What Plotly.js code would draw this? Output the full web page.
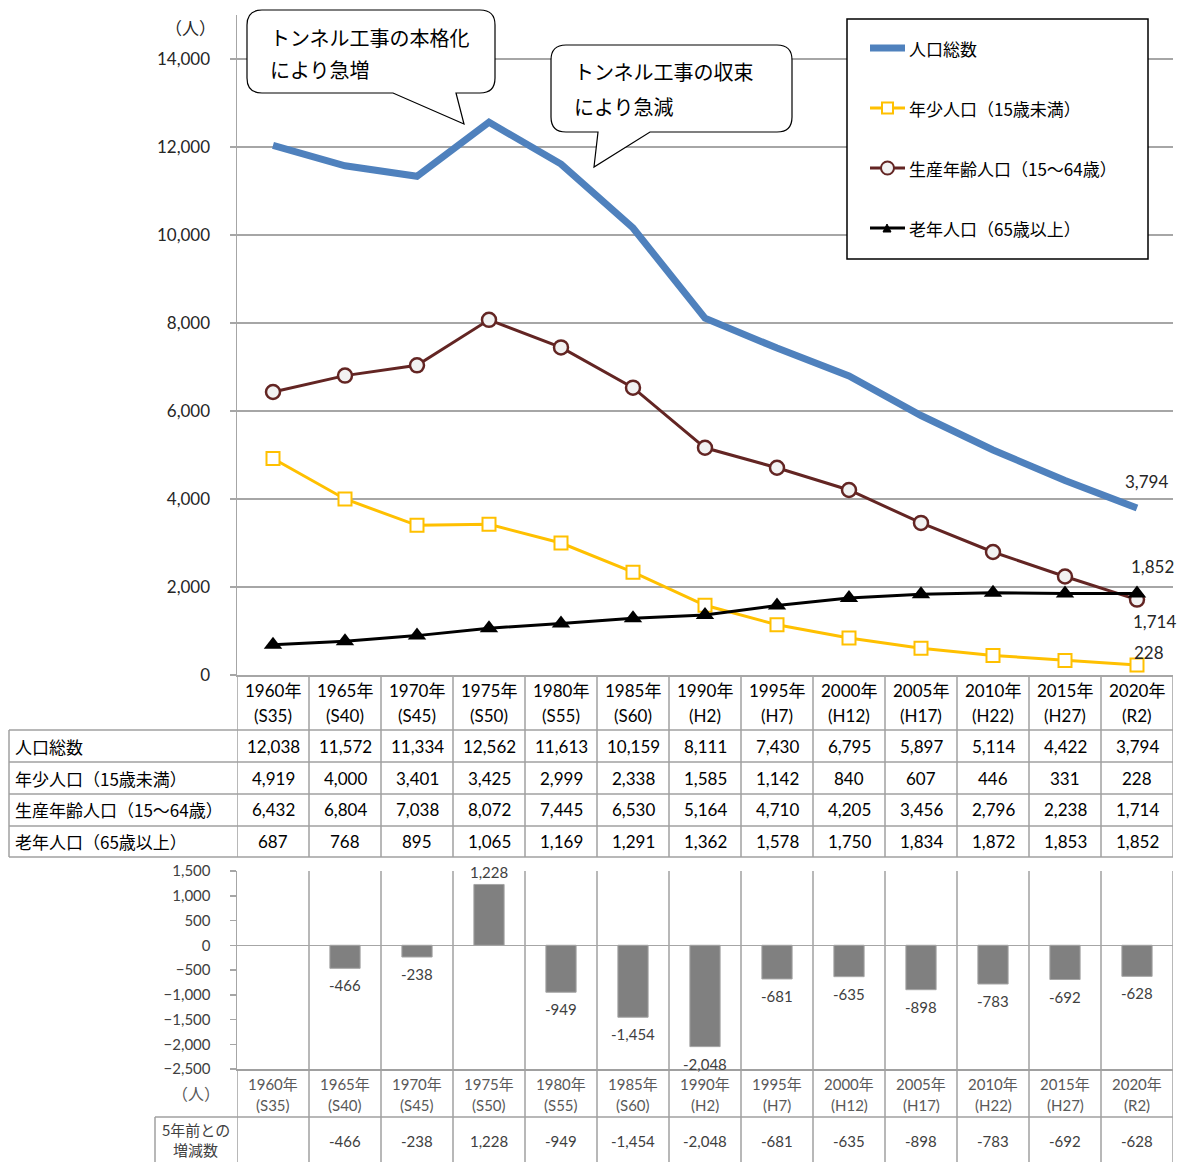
<!DOCTYPE html>
<html><head><meta charset="utf-8">
<script src="https://cdn.plot.ly/plotly-3.0.1.min.js"></script>
<style>html,body{margin:0;padding:0;background:#fff}#chart{width:1186px;height:1162px}</style>
</head><body><div id="chart"></div>
<script>
const years = ['1960年','1965年','1970年','1975年','1980年','1985年','1990年','1995年','2000年','2005年','2010年','2015年','2020年'];
const eras = ['(S35)','(S40)','(S45)','(S50)','(S55)','(S60)','(H2)','(H7)','(H12)','(H17)','(H22)','(H27)','(R2)'];
const totalPop = [12038,11572,11334,12562,11613,10159,8111,7430,6795,5897,5114,4422,3794];
const youthPop = [4919,4000,3401,3425,2999,2338,1585,1142,840,607,446,331,228];
const workingPop = [6432,6804,7038,8072,7445,6530,5164,4710,4205,3456,2796,2238,1714];
const elderlyPop = [687,768,895,1065,1169,1291,1362,1578,1750,1834,1872,1853,1852];
const change5yr = [null,-466,-238,1228,-949,-1454,-2048,-681,-635,-898,-783,-692,-628];
const seriesNames = ['人口総数','年少人口（15歳未満）','生産年齢人口（15～64歳）','老年人口（65歳以上）'];
const changeLabelLines = ['5年前との','増減数'];
const unitLabel = '（人）';
const callout1 = ['トンネル工事の本格化','により急増'];
const callout2 = ['トンネル工事の収束','により急減'];

const W = 1186, H = 1162;
const px = x => x / W;
const py = y => 1 - y / H;
const NUM_FONT = 'Lato, "Noto Sans CJK JP", sans-serif';
const JP_FONT = '"Noto Sans CJK JP", "Noto Sans", sans-serif';
const GRID = '#A6A6A6';
const TABLE_LINE = '#A0A0A0';

const C_TOTAL = '#4F81BD', C_YOUTH = '#FFC000', C_WORK = '#632523', C_OLD = '#000000';

const fmt = v => v == null ? '' : v.toLocaleString('en-US');

const traces = [
  {x: years, y: totalPop, type: 'scatter', mode: 'lines', name: seriesNames[0],
   line: {color: C_TOTAL, width: 7}, xaxis: 'x', yaxis: 'y'},
  {x: years, y: youthPop, type: 'scatter', mode: 'lines+markers', name: seriesNames[1],
   line: {color: C_YOUTH, width: 3},
   marker: {symbol: 'square', size: 13, color: '#FFFFFF', line: {color: C_YOUTH, width: 2}}, xaxis: 'x', yaxis: 'y'},
  {x: years, y: workingPop, type: 'scatter', mode: 'lines+markers', name: seriesNames[2],
   line: {color: C_WORK, width: 3},
   marker: {symbol: 'circle', size: 14, color: '#F2F2F2', line: {color: C_WORK, width: 2.5}}, xaxis: 'x', yaxis: 'y'},
  {x: years, y: elderlyPop, type: 'scatter', mode: 'lines+markers', name: seriesNames[3],
   line: {color: C_OLD, width: 3},
   marker: {symbol: 'triangle-up', size: 16, color: C_OLD}, xaxis: 'x', yaxis: 'y'},
  {x: years, y: change5yr, type: 'bar', xaxis: 'x2', yaxis: 'y2',
   marker: {color: '#808080', line: {color: '#A6A6A6', width: 1}}, width: 0.42}
];

const shapes = [];
const annotations = [];

function hl(x0, x1, y, color, w, layer) {
  shapes.push({type: 'line', xref: 'paper', yref: 'paper', x0: px(x0), x1: px(x1), y0: py(y), y1: py(y),
    line: {color: color || TABLE_LINE, width: w || 1.5}, layer: layer || 'below'});
}
function vlPaper(x, y0, y1) {
  shapes.push({type: 'line', xref: 'paper', yref: 'paper', x0: px(x), x1: px(x), y0: py(y0), y1: py(y1),
    line: {color: TABLE_LINE, width: 1.5}, layer: 'below'});
}
function vlData(xref, xv, y0, y1) {
  shapes.push({type: 'line', xref: xref, yref: 'paper', x0: xv, x1: xv, y0: py(y0), y1: py(y1),
    line: {color: TABLE_LINE, width: 1.5}, layer: 'below'});
}
function txt(text, x, y, opts) {
  annotations.push(Object.assign({text: text, xref: 'paper', yref: 'paper', x: px(x), y: py(y),
    showarrow: false, xanchor: 'center', yanchor: 'middle',
    font: {family: NUM_FONT, size: 17, color: '#000'}}, opts || {}));
}

// ---- Top data table ----
[730, 762, 794, 826, 857].forEach(y => hl(9, 1173, y));
for (let k = 0; k <= years.length; k++) vlData('x', k - 0.5, 675, 857);
vlPaper(9, 730, 857);
years.forEach((yr, i) => {
  annotations.push({text: yr, xref: 'x', yref: 'paper', x: i, y: py(690), showarrow: false,
    font: {family: NUM_FONT, size: 17, color: '#000'}, yanchor: 'middle'});
  annotations.push({text: eras[i], xref: 'x', yref: 'paper', x: i, y: py(715), showarrow: false,
    font: {family: NUM_FONT, size: 17, color: '#000'}, yanchor: 'middle'});
});
const rowData = [totalPop, youthPop, workingPop, elderlyPop];
const rowY = [746, 778, 810, 841.5];
rowData.forEach((arr, r) => {
  txt(seriesNames[r], 13, rowY[r], {xanchor: 'left', font: {family: JP_FONT, size: 17, color: '#000'}});
  arr.forEach((v, i) => {
    annotations.push({text: fmt(v), xref: 'x', yref: 'paper', x: i, y: py(rowY[r]), showarrow: false,
      font: {family: NUM_FONT, size: 17, color: '#000'}, yanchor: 'middle'});
  });
});

// ---- Top chart labels ----
txt(unitLabel, 190, 28, {font: {family: JP_FONT, size: 17, color: '#262626'}});
const lastI = years.length - 1;
[[totalPop[lastI], 9, 27], [elderlyPop[lastI], 15, 27], [workingPop[lastI], 17, -22], [youthPop[lastI], 12, 12]]
  .forEach(([v, xs, ys]) => {
    annotations.push({text: fmt(v), xref: 'x', yref: 'y', x: lastI, y: v, xshift: xs, yshift: ys,
      showarrow: false, font: {family: NUM_FONT, size: 17, color: '#262626'}});
  });

// ---- Bar value labels ----
change5yr.forEach((v, i) => {
  if (v == null) return;
  annotations.push({text: fmt(v), xref: 'x2', yref: 'y2', x: i, y: v, showarrow: false,
    yshift: v >= 0 ? 12 : -17, font: {family: NUM_FONT, size: 15, color: '#404040'}});
});

// ---- Callouts ----
function callout(x0, y0, x1, y1, r, tb2, tip, tb1) {
  const P = (x, y) => px(x).toFixed(5) + ',' + py(y).toFixed(5);
  const d = 'M' + P(x0 + r, y0) + ' L' + P(x1 - r, y0) + ' Q' + P(x1, y0) + ' ' + P(x1, y0 + r) +
    ' L' + P(x1, y1 - r) + ' Q' + P(x1, y1) + ' ' + P(x1 - r, y1) +
    ' L' + P(tb2, y1) + ' L' + P(tip[0], tip[1]) + ' L' + P(tb1, y1) +
    ' L' + P(x0 + r, y1) + ' Q' + P(x0, y1) + ' ' + P(x0, y1 - r) +
    ' L' + P(x0, y0 + r) + ' Q' + P(x0, y0) + ' ' + P(x0 + r, y0) + ' Z';
  shapes.push({type: 'path', xref: 'paper', yref: 'paper', path: d, fillcolor: '#FFFFFF',
    line: {color: '#000', width: 1.2}, layer: 'above'});
}
callout(247, 10, 495, 93, 15, 456, [464, 124], 393);
txt(callout1[0], 268, 37, {xanchor: 'left', font: {family: JP_FONT, size: 20, color: '#000'}});
txt(callout1[1], 268, 70, {xanchor: 'left', font: {family: JP_FONT, size: 20, color: '#000'}});
callout(551, 45, 792, 132, 15, 650, [594, 167], 598);
txt(callout2[0], 572, 72, {xanchor: 'left', font: {family: JP_FONT, size: 20, color: '#000'}});
txt(callout2[1], 572, 106, {xanchor: 'left', font: {family: JP_FONT, size: 20, color: '#000'}});

// ---- Legend (custom box) ----
shapes.push({type: 'rect', xref: 'paper', yref: 'paper', x0: px(847), x1: px(1148), y0: py(19), y1: py(259),
  fillcolor: '#FFFFFF', line: {color: '#000', width: 1.5}, layer: 'above'});
const legY = [48, 108, 168, 228];
const legColors = [C_TOTAL, C_YOUTH, C_WORK, C_OLD];
const legW = [7, 3, 3, 3];
legY.forEach((y, i) => {
  shapes.push({type: 'line', xref: 'paper', yref: 'paper', x0: px(870), x1: px(905), y0: py(y), y1: py(y),
    line: {color: legColors[i], width: legW[i]}, layer: 'above'});
  txt(seriesNames[i], 907, y, {xanchor: 'left', font: {family: JP_FONT, size: 17, color: '#000'}});
});
shapes.push({type: 'rect', xref: 'paper', yref: 'paper', x0: px(882), x1: px(893), y0: py(102.5), y1: py(113.5),
  fillcolor: '#FFFFFF', line: {color: C_YOUTH, width: 2}, layer: 'above'});
shapes.push({type: 'circle', xref: 'paper', yref: 'paper', x0: px(881), x1: px(894), y0: py(161.5), y1: py(174.5),
  fillcolor: '#F2F2F2', line: {color: C_WORK, width: 2}, layer: 'above'});
shapes.push({type: 'path', xref: 'paper', yref: 'paper',
  path: 'M' + px(883) + ',' + py(232) + ' L' + px(891) + ',' + py(232) + ' L' + px(887) + ',' + py(224) + ' Z',
  fillcolor: '#000', line: {color: '#000', width: 1}, layer: 'above'});

// ---- Bar chart frame & table ----
for (let k = 1; k <= years.length; k++) vlData('x2', k - 0.5, 871, 1162);
vlData('x2', -0.5, 1069, 1162);
hl(155, 1173, 1117);
vlPaper(155, 1117, 1162);
years.forEach((yr, i) => {
  annotations.push({text: yr, xref: 'x2', yref: 'paper', x: i, y: py(1084), showarrow: false,
    font: {family: NUM_FONT, size: 15, color: '#595959'}, yanchor: 'middle'});
  annotations.push({text: eras[i], xref: 'x2', yref: 'paper', x: i, y: py(1105), showarrow: false,
    font: {family: NUM_FONT, size: 15, color: '#595959'}, yanchor: 'middle'});
  if (change5yr[i] != null) {
    annotations.push({text: fmt(change5yr[i]), xref: 'x2', yref: 'paper', x: i, y: py(1141), showarrow: false,
      font: {family: NUM_FONT, size: 15, color: '#404040'}, yanchor: 'middle'});
  }
});
txt(unitLabel, 196, 1093, {font: {family: JP_FONT, size: 16, color: '#595959'}});
txt(changeLabelLines[0], 196, 1129, {font: {family: JP_FONT, size: 15, color: '#404040'}});
txt(changeLabelLines[1], 196, 1149, {font: {family: JP_FONT, size: 15, color: '#404040'}});

const layout = {
  width: W, height: H,
  margin: {l: 0, r: 0, t: 0, b: 0, pad: 0},
  paper_bgcolor: '#FFFFFF', plot_bgcolor: 'rgba(0,0,0,0)',
  showlegend: false,
  xaxis: {domain: [px(237), px(1173)], type: 'category', categoryarray: years, range: [-0.5, 12.5],
    showticklabels: false, ticks: '', showgrid: false, zeroline: false,
    showline: true, linecolor: GRID, linewidth: 1.5, anchor: 'y', fixedrange: true},
  yaxis: {domain: [py(675), py(15)], range: [0, 15000], tickvals: [0, 2000, 4000, 6000, 8000, 10000, 12000, 14000],
    tickformat: ',', showgrid: true, gridcolor: GRID, gridwidth: 1.5, zeroline: false,
    showline: true, linecolor: GRID, linewidth: 1.5, ticks: 'outside', ticklen: 6, tickcolor: GRID, tickwidth: 1.5,
    ticklabelstandoff: 16, tickfont: {family: NUM_FONT, size: 17, color: '#262626'}, anchor: 'x'},
  xaxis2: {domain: [px(237), px(1173)], type: 'category', categoryarray: years, range: [-0.5, 12.5],
    showticklabels: false, ticks: '', showgrid: false, zeroline: false,
    showline: true, linecolor: TABLE_LINE, linewidth: 1.5, anchor: 'y2'},
  yaxis2: {domain: [py(1069), py(871)], range: [-2500, 1500], dtick: 500, tick0: 0,
    tickformat: ',', showgrid: false, zeroline: true, zerolinecolor: GRID, zerolinewidth: 1.5,
    showline: true, linecolor: GRID, linewidth: 1.5, ticks: 'outside', ticklen: 6, tickcolor: GRID, tickwidth: 1.5,
    ticklabelstandoff: 16, tickfont: {family: NUM_FONT, size: 15, color: '#404040'}, anchor: 'x2'},
  shapes: shapes,
  annotations: annotations
};

Plotly.newPlot('chart', traces, layout, {staticPlot: true, displayModeBar: false});
</script>
</body></html>
